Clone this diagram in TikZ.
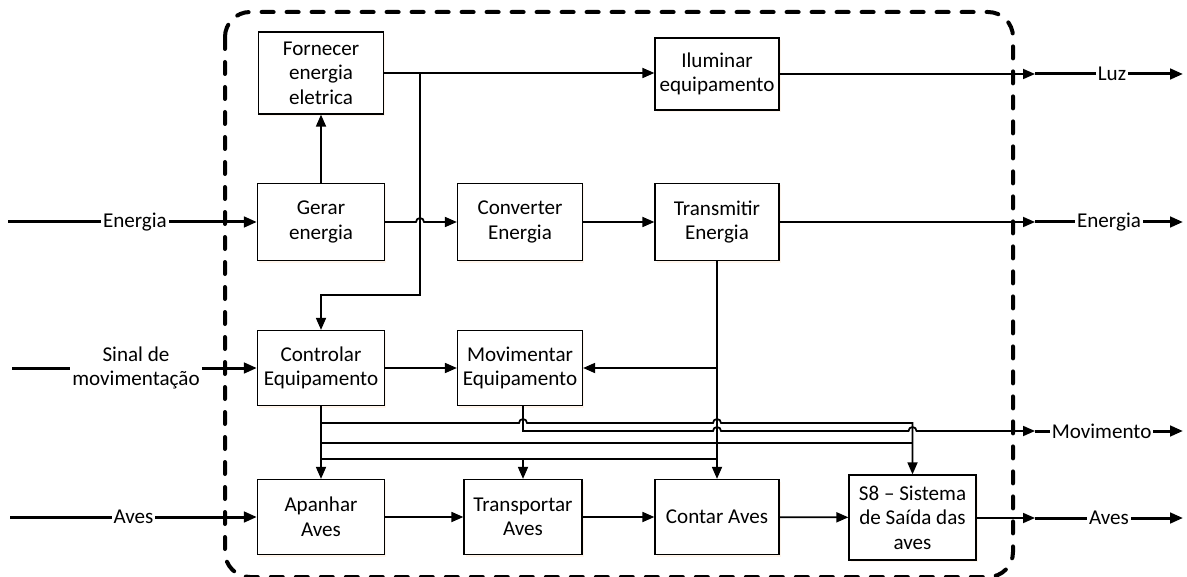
\documentclass[tikz,border=0pt]{standalone}
\usepackage{fontspec}
\setmainfont{Carlito}
\usetikzlibrary{arrows.meta,shadows}

\begin{document}
\begin{tikzpicture}[x=0.2mm, y=-0.2mm,
        font=\fontsize{12}{14}\selectfont,
        box/.style={draw, line width=0.25mm, fill=white, align=center, inner sep=1pt,
            minimum width=25.4mm, minimum height=15.4mm,
            drop shadow={shadow xshift=0.3mm, shadow yshift=-0.4mm, fill=orange!15}},
        conn/.style={line width=0.35mm, -{Triangle[length=2.4mm,width=2mm]}},
        bus/.style={line width=0.35mm},
        ext/.style={line width=0.6mm, -{Triangle[length=2.6mm,width=2.1mm]}},
        lbl/.style={fill=white, inner sep=1pt},
        border/.style={line width=0.8mm, line cap=round, dash pattern=on 2.4mm off 2.6mm, rounded corners=5mm}]
        \useasboundingbox (0,0) rectangle (1187,577);

        \draw[border] (225,12) rectangle (1013,577);

        \node[box, minimum width=25mm, minimum height=16.4mm] (fornecer) at (321,73) {Fornecer\\energia\\eletrica};
        \node[box, minimum width=24.8mm, minimum height=14.4mm] (iluminar) at (717,74) {Iluminar\\equipamento};
        \node[box] (gerar) at (321,222) {Gerar\\energia};
        \node[box, minimum width=25mm] (converter) at (520,222) {Converter\\Energia};
        \node[box, minimum width=24.8mm] (transmitir) at (717,222) {Transmitir\\Energia};
        \node[box, minimum height=15mm] (controlar) at (321,368) {Controlar\\Equipamento};
        \node[box, minimum width=25mm, minimum height=15mm] (movimentar) at (520,368) {Movimentar\\Equipamento};
        \node[box, minimum height=15mm] (apanhar) at (321,517) {Apanhar\\Aves};
        \node[box, minimum width=23.6mm, minimum height=15mm] (transportar) at (523,517) {Transportar\\Aves};
        \node[box, minimum width=24.8mm, minimum height=15mm] (contar) at (717,517) {Contar Aves};
        \node[box, minimum height=17mm] (saida) at (912.5,517.5) {S8 – Sistema\\de Saída das\\aves};

        \coordinate (luzA) at (1035,74);
        \coordinate (luzB) at (1183,74);
        \coordinate (enA) at (1035,222);
        \coordinate (enB) at (1183,222);
        \coordinate (movA) at (1035,431);
        \coordinate (movB) at (1183,431);
        \coordinate (avA) at (1035,518);
        \coordinate (avB) at (1183,518);
        \coordinate (inE) at (8,222);
        \coordinate (inS) at (12,368);
        \coordinate (inA) at (10,517);

        \draw[ext] (inE) -- (gerar.west) node[lbl, pos=0.51] {Energia};
        \node[inner sep=1pt, align=center] (sinal) at (136,368) {Sinal de\\movimentação};
        \draw[line width=0.6mm] (inS) -- (sinal.west);
        \draw[ext] (sinal.east) -- (controlar.west);
        \draw[ext] (inA) -- (apanhar.west) node[lbl, pos=0.5] {Aves};

        \draw[conn] (gerar.north) -- (fornecer.south);
        \draw[conn] (fornecer.east) -- (fornecer.east -| iluminar.west);
        \draw[conn] (fornecer.east -| 420,0) |- (controlar.north |- 0,295) -- (controlar.north);
        \draw[conn] (gerar.east) -- (416,222) arc[start angle=180, end angle=0, radius=0.8mm] -- (converter.west);
        \draw[conn] (converter) -- (transmitir);
        \draw[conn] (transmitir.south) -- (contar.north);
        \draw[conn] (transmitir.south |- movimentar.east) -- (movimentar.east);
        \draw[conn] (controlar) -- (movimentar);
        \draw[conn] (controlar) -- (apanhar);

        \draw[conn] (controlar.south |- 0,423) -- (519,423) arc[start angle=180, end angle=0, radius=0.8mm]
            -- (713,423) arc[start angle=180, end angle=0, radius=0.8mm] -- (saida.north |- 0,423) -- (saida.north);
        \draw[conn] (movimentar.south -| transportar.north) |- (713,431) arc[start angle=180, end angle=0, radius=0.8mm]
            -- (908.5,431) arc[start angle=180, end angle=0, radius=0.8mm] -- (movA);
        \draw[bus] (controlar.south |- 0,443) -- (saida.north |- 0,443);
        \draw[bus] (controlar.south |- 0,459) -- (contar.north |- 0,459);
        \draw[conn] (transportar.north |- 0,459) -- (transportar.north);
        \draw[conn] (apanhar) -- (transportar);
        \draw[conn] (transportar) -- (contar);
        \draw[conn] (contar) -- (saida);

        \draw[conn] (iluminar.east) -- (luzA);
        \draw[conn] (transmitir.east) -- (enA);
        \draw[conn] (saida.east |- avA) -- (avA);
        \draw[ext] (luzA) -- (luzB) node[lbl, pos=0.52] {Luz};
        \draw[ext] (enA) -- (enB) node[lbl, pos=0.5] {Energia};
        \draw[ext] (movA) -- (movB) node[lbl, pos=0.45] {Movimento};
        \draw[ext] (avA) -- (avB) node[lbl, pos=0.5] {Aves};
    \end{tikzpicture}
\end{document}
